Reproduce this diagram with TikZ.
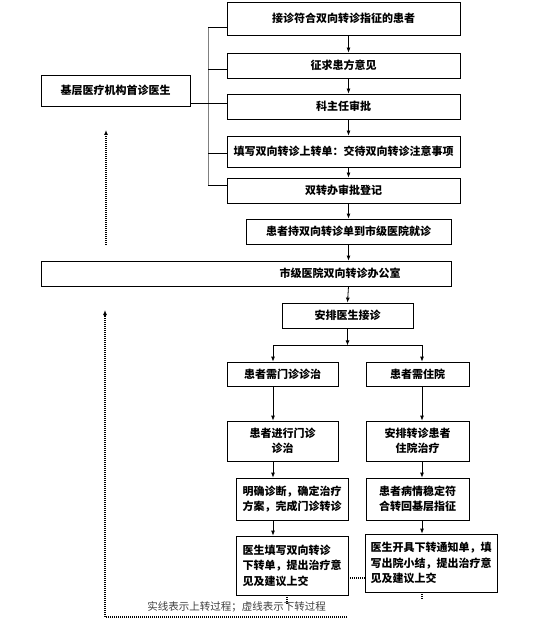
\documentclass[tikz,border=0pt]{standalone}
\usepackage{fontspec}
\usetikzlibrary{arrows.meta,calc}
\newfontfamily\cjk{Noto Sans CJK SC}
\definecolor{gray1}{rgb}{0.5,0.5,0.5}

\begin{document}
\begin{tikzpicture}[x=1pt,y=-1pt,>={Latex[length=5pt,width=4pt]},
  box/.style={draw,line width=0.8pt,inner sep=0pt,align=center,
    font=\cjk\bfseries\fontsize{11}{15.5}\selectfont},
  dotline/.style={line width=1.1pt,dash pattern=on 1pt off 1pt}]

    \useasboundingbox (0,0) rectangle (541,628);

    \node[box,minimum width=233,minimum height=33] (b1) at (343.5,18.5) {接诊符合双向转诊指征的患者};
    \node[box,minimum width=233,minimum height=25] (b2) at (343.5,65.5) {征求患方意见};
    \node[box,minimum width=233,minimum height=25] (b3) at (343.5,106.5) {科主任审批};
    \node[box,minimum width=233,minimum height=31] (b4) at (343.5,151.5) {填写双向转诊上转单：交待双向转诊注意事项};
    \node[box,minimum width=233,minimum height=25] (b5) at (343.5,190.5) {双转办审批登记};
    \node[box,minimum width=149,minimum height=31] (doc) at (115.5,90.5) {基层医疗机构首诊医生};
    \node[box,minimum width=205,minimum height=25] (b6) at (348.5,231.5) {患者持双向转诊单到市级医院就诊};
    \node[box,minimum width=410,minimum height=25] (b7) at (246,273.5) {\hspace*{188pt}市级医院双向转诊办公室};
    \node[box,minimum width=131,minimum height=25] (b8) at (347.5,315.5) {安排医生接诊};
    \node[box,minimum width=111,minimum height=24] (b9) at (282.5,374) {患者需门诊诊治};
    \node[box,minimum width=103,minimum height=24] (b10) at (417.5,374) {患者需住院};
    \node[box,minimum width=111,minimum height=40] (b11) at (282.5,441) {患者进行门诊\\诊治};
    \node[box,minimum width=103,minimum height=40] (b12) at (417.5,441) {安排转诊患者\\住院治疗};
    \node[box,minimum width=112,minimum height=42] (b13) at (292,499) {明确诊断，确定治疗\\方案，完成门诊转诊};
    \node[box,minimum width=103,minimum height=42,align=left] (b14) at (417.5,499) {患者病情稳定符\\合转回基层指征};
    \node[box,minimum width=112,minimum height=59,align=left] (b15) at (292,565.5) {医生填写双向转诊\\下转单，提出治疗意\\见及建议上交};
    \node[box,minimum width=132,minimum height=58,align=left] (b16) at (431,563) {医生开具下转通知单，填\\写出院小结，提出治疗意\\见及建议上交};
    \node[font=\cjk\fontsize{10.5}{12}\selectfont,text=black!75,inner sep=0pt] (note) at (236.5,607) {实线表示上转过程；虚线表示下转过程};

    \coordinate (cl) at (273,0);
    \coordinate (cr) at (422,0);
    \coordinate (s1) at (208,27);
    \coordinate (s5) at (208,185);

    \draw[gray1,line width=0.9pt] (s1) -- (s5);
    \foreach \y/\b in {27/b1,69/b2,153/b4,185/b5}
      \draw[line width=0.8pt] (\b.west |- 0,\y) -- ++(-19,0);
    \draw[line width=0.8pt] (doc.east |- 0,103) -- (b3.west |- 0,103);

    \foreach \a/\b in {b1/b2,b2/b3,b3/b4,b4/b5,b5/b6}
      \draw[->,line width=0.8pt] (\a.south -| b6.north) -- (\b.north -| b6.north);
    \draw[->,line width=0.8pt] (b6.south) -- (b6.south |- b7.north);
    \draw[->,line width=0.8pt] (b6.south |- b7.south) -- (b8.north);
    \draw[->,line width=0.8pt] (b8.south) --++ (0,17) coordinate (fork);
    \draw[->,line width=0.8pt] (fork) -| (b9.north -| cl);
    \draw[->,line width=0.8pt] (fork) -| (b10.north -| cr);
    \draw[->,line width=0.8pt] (b9.south -| cl) -- (b11.north -| cl);
    \draw[->,line width=0.8pt] (b11.south -| cl) -- (b13.north -| cl);
    \draw[->,line width=0.8pt] (b13.south -| cl) -- (b15.north -| cl);
    \draw[->,line width=0.8pt] (b10.south -| cr) -- (b12.north -| cr);
    \draw[->,line width=0.8pt] (b12.south -| cr) -- (b14.north -| cr);
    \draw[->,line width=0.8pt] (b14.south -| cr) -- (b16.north -| cr);

    \draw[dotline] (b15.east |- 0,578) -- (b16.west |- 0,578);
    \draw[dotline] (b15.south -| 287,0) --++ (0,10);
    \draw[dotline] (b16.south -| cr) --++ (0,7);
    \coordinate (up1) at (106,245);
    \coordinate (up2) at (347,617);
    \draw[dotline,->] (up1) --++ (0,-115);
    \draw[dotline,->] (up2) -- (105,617) -- (105,310);

  \end{tikzpicture}
\end{document}
